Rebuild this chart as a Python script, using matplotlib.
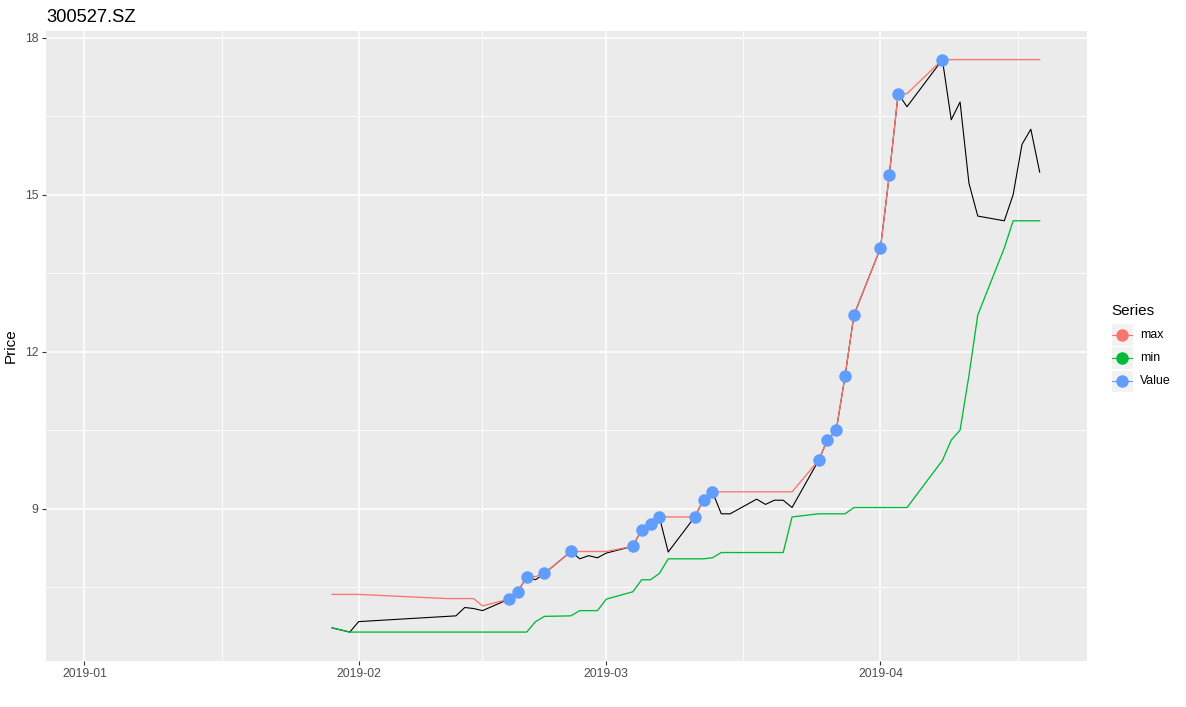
import datetime as dt
import numpy as np
import matplotlib
matplotlib.use("Agg")
import matplotlib.pyplot as plt
import matplotlib.dates as mdates
from matplotlib.lines import Line2D
from matplotlib.patches import Rectangle

plt.rcParams['font.family'] = ['Liberation Sans', 'DejaVu Sans']

# ---------------- data ----------------
title = "300527.SZ"
y_label = "Price"
legend_title = "Series"
series_names = ["max", "min", "Value"]
series_colors = ["#F8766D", "#00BA38", "#619CFF"]

date_strings = [
    "2019-01-29", "2019-01-30", "2019-01-31", "2019-02-01",
    "2019-02-11", "2019-02-12", "2019-02-13", "2019-02-14", "2019-02-15",
    "2019-02-18", "2019-02-19", "2019-02-20", "2019-02-21", "2019-02-22",
    "2019-02-25", "2019-02-26", "2019-02-27", "2019-02-28", "2019-03-01",
    "2019-03-04", "2019-03-05", "2019-03-06", "2019-03-07", "2019-03-08",
    "2019-03-11", "2019-03-12", "2019-03-13", "2019-03-14", "2019-03-15",
    "2019-03-18", "2019-03-19", "2019-03-20", "2019-03-21", "2019-03-22",
    "2019-03-25", "2019-03-26", "2019-03-27", "2019-03-28", "2019-03-29",
    "2019-04-01", "2019-04-02", "2019-04-03", "2019-04-04",
    "2019-04-08", "2019-04-09", "2019-04-10", "2019-04-11", "2019-04-12",
    "2019-04-15", "2019-04-16", "2019-04-17", "2019-04-18", "2019-04-19",
]

value = [
    6.72, 6.68, 6.64, 6.84,
    6.94, 6.95, 7.11, 7.09, 7.05,
    7.27, 7.41, 7.70, 7.64, 7.76,
    8.18, 8.04, 8.10, 8.06, 8.15,
    8.28, 8.60, 8.70, 8.84, 8.17,
    8.84, 9.17, 9.32, 8.90, 8.90,
    9.18, 9.08, 9.16, 9.16, 9.02,
    9.92, 10.31, 10.50, 11.54, 12.70,
    13.98, 15.38, 16.93, 16.68,
    17.58, 16.43, 16.77, 15.22, 14.59,
    14.50, 15.00, 15.96, 16.25, 15.43,
]

series_max = [
    7.36, 7.36, 7.36, 7.36,
    7.28, 7.28, 7.28, 7.28, 7.14,
    7.27, 7.41, 7.70, 7.70, 7.76,
    8.18, 8.18, 8.18, 8.18, 8.18,
    8.28, 8.60, 8.70, 8.84, 8.84,
    8.84, 9.17, 9.32, 9.32, 9.32,
    9.32, 9.32, 9.32, 9.32, 9.32,
    9.92, 10.31, 10.50, 11.54, 12.70,
    13.98, 15.38, 16.93, 16.93,
    17.58, 17.58, 17.58, 17.58, 17.58,
    17.58, 17.58, 17.58, 17.58, 17.58,
]

series_min = [
    6.72, 6.68, 6.64, 6.64,
    6.64, 6.64, 6.64, 6.64, 6.64,
    6.64, 6.64, 6.64, 6.84, 6.94,
    6.95, 7.05, 7.05, 7.05, 7.27,
    7.41, 7.64, 7.64, 7.76, 8.04,
    8.04, 8.04, 8.06, 8.16, 8.16,
    8.16, 8.16, 8.16, 8.16, 8.84,
    8.90, 8.90, 8.90, 8.90, 9.02,
    9.02, 9.02, 9.02, 9.02,
    9.92, 10.31, 10.50, 11.54, 12.70,
    13.98, 14.50, 14.50, 14.50, 14.50,
]

y_breaks = [9, 12, 15, 18]

# ---------------- figure ----------------
W, H = 1186, 707
fig = plt.figure(figsize=(W / 100, H / 100), dpi=100)
fig.patch.set_facecolor("white")

def fx(px):
    return px / W

def fy(py):
    return 1 - py / H

panel_l, panel_r, panel_t, panel_b = 46, 1087, 31, 660.7
ax = fig.add_axes([fx(panel_l), fy(panel_b), fx(panel_r - panel_l), (panel_b - panel_t) / H])
ax.set_facecolor("#EBEBEB")

dates = [dt.datetime.strptime(s, "%Y-%m-%d") for s in date_strings]
vals = np.array(value)
mx = np.array(series_max)
mn = np.array(series_min)

ax.plot(dates, vals, color="black", lw=0.8, zorder=3)
ax.plot(dates, mx, color=series_colors[0], lw=0.95, zorder=4)
ax.plot(dates, mn, color=series_colors[1], lw=0.95, zorder=4)
mask = np.isclose(vals, mx)
ax.plot(np.array(dates)[mask], vals[mask], "o", color=series_colors[2],
        ms=9, mew=0, zorder=5)

# x scale: data domain starts at first row of the source frame (2019-01-02)
x0 = dt.datetime(2019, 1, 2)
x1 = dates[-1]
span = (x1 - x0).total_seconds() / 86400.0
ax.set_xlim(x0 - dt.timedelta(days=0.05 * span), x1 + dt.timedelta(days=0.05 * span))

lo, hi = mn.min(), mx.max()
pad = 0.05 * (hi - lo)
ax.set_ylim(lo - pad, hi + pad)

ax.xaxis.set_major_locator(mdates.MonthLocator())
ax.xaxis.set_major_formatter(mdates.DateFormatter("%Y-%m"))
minor_x = [dt.datetime(2019, 1, 16, 12), dt.datetime(2019, 2, 15),
           dt.datetime(2019, 3, 16, 12), dt.datetime(2019, 4, 16, 12)]
ax.set_xticks(minor_x, minor=True)
ax.set_yticks(y_breaks)
ax.set_yticklabels([str(b) for b in y_breaks])
ax.set_yticks([7.5, 10.5, 13.5, 16.5], minor=True)

ax.grid(which="major", color="white", lw=1.1)
ax.grid(which="minor", color="white", lw=0.6)
ax.set_axisbelow(True)
for s in ax.spines.values():
    s.set_visible(False)

ax.tick_params(which="major", length=2.8, width=0.8, color="#333333",
               labelcolor="#4D4D4D", labelsize=8.8, pad=2.5)
ax.tick_params(which="minor", length=0)

ax.set_ylabel(y_label, fontsize=11, color="black", labelpad=5)

fig.text(fx(46), fy(22), title, fontsize=13.2, color="black",
         ha="left", va="baseline")

# ---------------- legend (ggplot style) ----------------
fig.text(fx(1111), fy(315), legend_title, fontsize=11, color="black",
         ha="left", va="baseline")
key_w, key_h = 22, 22.5
for i, (name, col) in enumerate(zip(series_names, series_colors)):
    top = 323.5 + i * 23
    cy = top + key_h / 2
    fig.patches.append(Rectangle((fx(1111), fy(top + key_h)), key_w / W, key_h / H,
                                 transform=fig.transFigure, facecolor="#F2F2F2",
                                 edgecolor="white", lw=0.8, zorder=1))
    fig.lines.append(Line2D([fx(1112), fx(1132)], [fy(cy), fy(cy)],
                            transform=fig.transFigure, color=col, lw=0.8, zorder=2))
    fig.lines.append(Line2D([fx(1122)], [fy(cy)], transform=fig.transFigure,
                            marker="o", ms=9, mew=0, color=col, zorder=3))
    fig.text(fx(1140), fy(cy), name, fontsize=8.8, color="black",
             ha="left", va="center")

fig.savefig("out.png", dpi=100, facecolor="white")
